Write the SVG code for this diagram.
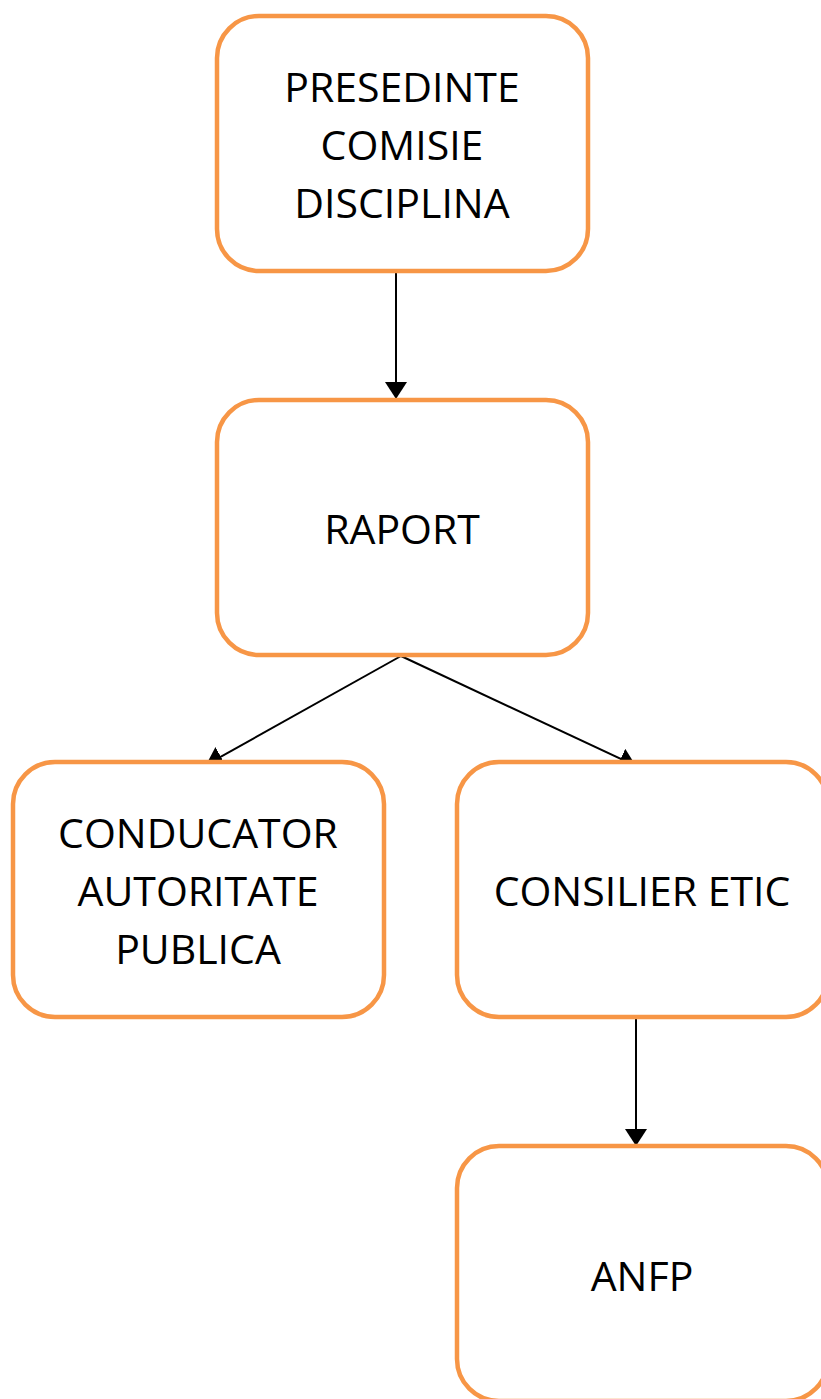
<svg xmlns="http://www.w3.org/2000/svg" width="821" height="1399" viewBox="0 0 821 1399">
<defs>
<marker id="ah" markerUnits="userSpaceOnUse" markerWidth="24" markerHeight="24" refX="17" refY="11" orient="auto">
<path d="M0,0 L17,11 L0,22 Z" fill="#000"/>
</marker>
<style>
.box{fill:#fff;stroke:#F79646;stroke-width:4.5}
.t{font-family:"Open Sans","Liberation Sans",sans-serif;font-size:41px;fill:#000;text-anchor:middle}
.c{stroke:#000;stroke-width:2;fill:none;marker-end:url(#ah)}
</style>
</defs>
<rect width="821" height="1399" fill="#fff"/>
<g id="connectors">
<line class="c" x1="396" y1="271" x2="396" y2="399"/>
<line class="c" x1="401" y1="656" x2="206" y2="765"/>
<line class="c" x1="401" y1="656" x2="636" y2="766"/>
<line class="c" x1="636" y1="1018" x2="636" y2="1146"/>
</g>
<g id="presedinte">
<rect class="box" x="217" y="16" width="371" height="255" rx="42"/>
<text class="t" x="402" y="102">PRESEDINTE</text>
<text class="t" x="402" y="160">COMISIE</text>
<text class="t" x="402" y="218">DISCIPLINA</text>
</g>
<g id="raport">
<rect class="box" x="217" y="400" width="371" height="255" rx="42"/>
<text class="t" x="402" y="544">RAPORT</text>
</g>
<g id="conducator">
<rect class="box" x="13" y="762" width="371" height="255" rx="42"/>
<text class="t" x="198" y="848">CONDUCATOR</text>
<text class="t" x="198" y="906">AUTORITATE</text>
<text class="t" x="198" y="964">PUBLICA</text>
</g>
<g id="consilier">
<rect class="box" x="457" y="762" width="371" height="255" rx="42"/>
<text class="t" x="642" y="906">CONSILIER ETIC</text>
</g>
<g id="anfp">
<rect class="box" x="457" y="1146" width="371" height="255" rx="42"/>
<text class="t" x="642" y="1291">ANFP</text>
</g>
</svg>
